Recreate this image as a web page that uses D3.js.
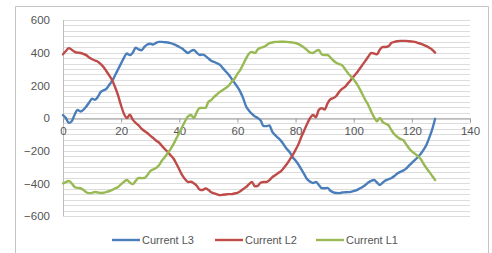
<!DOCTYPE html>
<html>
<head>
<meta charset="utf-8">
<script src="https://cdn.jsdelivr.net/npm/d3@7"></script>
<style>
  html, body { margin: 0; padding: 0; background: #fff; }
  svg { display: block; }
  .tick-label { font-family: "Liberation Sans", Arial, sans-serif; font-size: 11.5px; fill: #555; }
  .legend-label { font-family: "Liberation Sans", Arial, sans-serif; font-size: 11px; fill: #555; }
</style>
</head>
<body>
<svg id="chart" width="492" height="253"></svg>
<script>
// sample index on the x axis (0..128)
const samples = d3.range(129);

const currentL3 = [
  18, 0, -30, -20, 20, 50, 40, 50, 70, 95,
  118, 112, 130, 160, 170, 180, 205, 230, 265, 300,
  335, 370, 395, 385, 400, 430, 420, 415, 435, 450,
  455, 450, 460, 466, 466, 464, 462, 458, 452, 445,
  435, 425, 410, 398, 410, 416, 400, 386, 388, 380,
  365, 350, 343, 335, 325, 305, 285, 265, 240, 215,
  190, 160, 120, 70, 45, 25, 10, 0, -15, -50,
  -50, -45, -85, -105, -122, -140, -165, -190, -210, -240,
  -260, -285, -315, -345, -375, -390, -398, -392, -410, -429,
  -430, -428, -445, -455, -459, -460, -456, -455, -454, -452,
  -447, -441, -432, -422, -410, -395, -385, -380, -395, -410,
  -395, -382, -375, -367, -355, -340, -330, -322, -310, -292,
  -275, -258, -240, -220, -195, -165, -120, -70, -5
];

const currentL2 = [
  390, 410, 428, 418, 405, 400, 398, 392, 385, 370,
  360, 352, 345, 330, 310, 285, 258, 228, 185, 135,
  75, 25, 0, 20, -10, -30, -45, -65, -80, -92,
  -108, -122, -138, -150, -170, -190, -208, -228, -248, -280,
  -315, -350, -375, -392, -390, -400, -415, -438, -441, -432,
  -440, -455, -462, -468, -472, -470, -468, -466, -466, -462,
  -458, -448, -435, -422, -405, -392, -418, -415, -395, -392,
  -392, -380, -362, -350, -337, -325, -305, -282, -255, -227,
  -195, -160, -115, -75, -35, 0, 18, 5, 50, 60,
  52, 90, 115, 122, 135, 160, 178, 190, 212, 233,
  255, 275, 300, 325, 350, 375, 398, 395, 390, 420,
  435, 435, 440, 460, 466, 470, 472, 472, 472, 470,
  468, 466, 460, 455, 448, 440, 430, 418, 400
];

const currentL1 = [
  -400, -392, -386, -400, -422, -428, -430, -440, -455, -460,
  -458, -453, -456, -459, -458, -452, -447, -440, -430, -422,
  -405, -390, -380, -395, -405, -385, -367, -368, -367, -350,
  -325, -315, -306, -290, -262, -240, -215, -190, -160, -125,
  -92, -55, -20, 10, 18, 0, 35, 61, 62, 62,
  98, 110, 129, 145, 160, 172, 184, 198, 220, 240,
  270, 295, 330, 365, 395, 405, 398, 420, 430, 435,
  445, 459, 462, 466, 466, 467, 467, 466, 464, 462,
  459, 452, 442, 430, 415, 400, 398, 410, 416, 390,
  386, 386, 370, 352, 338, 330, 322, 300, 275, 255,
  235, 210, 180, 145, 110, 80, 40, 5, -20, 0,
  -25, -35, -45, -75, -100, -116, -128, -135, -160, -185,
  -205, -218, -232, -250, -280, -306, -330, -355, -380
];

const xTicks = [0, 20, 40, 60, 80, 100, 120, 140];
const yTicks = [-600, -400, -200, 0, 200, 400, 600];

const series = [
  { name: "Current L3", values: currentL3, color: "#4a7ebb" },
  { name: "Current L2", values: currentL2, color: "#be4b48" },
  { name: "Current L1", values: currentL1, color: "#98b954" }
];

const svg = d3.select("#chart");

// outer frame of the pasted chart
svg.append("path")
  .attr("d", "M15.5,253 L15.5,6.5 L488.5,6.5 L488.5,253")
  .attr("fill", "none")
  .attr("stroke", "#c4c4c4")
  .attr("stroke-width", 1);

const x = d3.scaleLinear().domain([0, 140]).range([63, 470]);
const y = d3.scaleLinear().domain([-600, 600]).range([216, 20]);

// gridlines (major 200, minor every 200/6)
const grid = svg.append("g");
const gridVals = d3.range(-600, 600.01, 200 / 6);
grid.selectAll("line")
  .data(gridVals)
  .enter()
  .append("line")
  .attr("x1", x(0))
  .attr("x2", x(140))
  .attr("y1", (d) => Math.round(y(d)) + 0.5)
  .attr("y2", (d) => Math.round(y(d)) + 0.5)
  .attr("stroke", "#dcdcdc")
  .attr("stroke-width", 1);

// y axis line
svg.append("line")
  .attr("x1", x(0) + 0.5).attr("x2", x(0) + 0.5)
  .attr("y1", y(600)).attr("y2", y(-600))
  .attr("stroke", "#bdbdbd");

// x axis at zero
const xAxis = d3.axisBottom(x).tickValues(xTicks).tickSize(4).tickPadding(4);
const gx = svg.append("g")
  .attr("transform", `translate(0,${Math.round(y(0)) + 0.5})`)
  .call(xAxis);
gx.select(".domain").attr("stroke", "#9a9a9a");
gx.selectAll(".tick line").attr("stroke", "#9a9a9a");
gx.selectAll(".tick text").attr("class", "tick-label").attr("fill", null);

// y labels
const yAxis = d3.axisLeft(y).tickValues(yTicks).tickSize(0).tickPadding(13);
const gy = svg.append("g")
  .attr("transform", `translate(${x(0)},0)`)
  .call(yAxis);
gy.select(".domain").remove();
gy.selectAll(".tick text").attr("class", "tick-label").attr("fill", null);

// lines
const line = d3.line()
  .x((d, i) => x(samples[i]))
  .y((d) => y(d))
  .curve(d3.curveMonotoneX);

svg.append("g")
  .selectAll("path")
  .data(series)
  .enter()
  .append("path")
  .attr("fill", "none")
  .attr("stroke", (d) => d.color)
  .attr("stroke-width", 2.4)
  .attr("stroke-linejoin", "round")
  .attr("stroke-linecap", "round")
  .attr("d", (d) => line(d.values));

// legend
const legendX = [112, 215, 316];
const legend = svg.append("g");
series.forEach((s, i) => {
  const g = legend.append("g").attr("transform", `translate(${legendX[i]},240)`);
  g.append("line")
    .attr("x1", 0).attr("x2", 28)
    .attr("y1", 0).attr("y2", 0)
    .attr("stroke", s.color)
    .attr("stroke-width", 2.4);
  g.append("text")
    .attr("class", "legend-label")
    .attr("x", 30)
    .attr("y", 4)
    .text(s.name);
});
</script>
</body>
</html>
